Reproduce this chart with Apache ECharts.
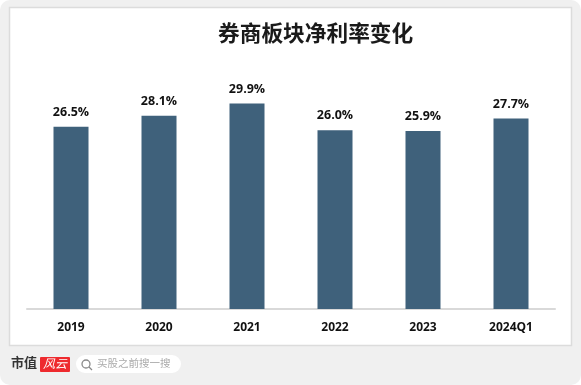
<!DOCTYPE html>
<html><head><meta charset="utf-8">
<style>html,body{margin:0;padding:0;background:#fff}#c{width:581px;height:385px}</style>
<script src="https://cdn.jsdelivr.net/npm/echarts@6/dist/echarts.min.js"></script>
</head><body><div id="c"></div>
<script>
const categories = ['2019','2020','2021','2022','2023','2024Q1'];
const netMargin = [26.5,28.1,29.9,26.0,25.9,27.7];
const titleText = '券商板块净利率变化';
const cjk = '"Noto Sans CJK SC","Noto Sans",sans-serif';
const latin = '"Open Sans","Noto Sans",sans-serif';
const chart = echarts.init(document.getElementById('c'), null, {renderer:'canvas'});
chart.setOption({
  animation:false,
  backgroundColor:'#ffffff',
  title:{text:titleText,left:213,top:17,
    textStyle:{fontFamily:cjk,fontSize:21.7,fontWeight:'bold',color:'#1a1a1a'}},
  grid:{left:27,right:26,top:34,bottom:76},
  xAxis:{type:'category',data:categories,
    axisLine:{lineStyle:{color:'#d9d9d9',width:2}},axisTick:{show:false},
    axisLabel:{margin:13,fontFamily:latin,fontSize:12,fontWeight:'bold',color:'#111'}},
  yAxis:{type:'value',min:0,max:40,show:false,splitLine:{show:false}},
  series:[{type:'bar',data:netMargin,barWidth:35,z:5,
    itemStyle:{color:'#3f617b'},
    label:{show:true,position:'top',distance:8,fontFamily:latin,fontSize:12.5,fontWeight:'bold',color:'#111',
      formatter:p=>p.value.toFixed(1)+'%'}}],
  graphic:[
    {type:'rect',z:-10,silent:true,shape:{x:0,y:0,width:581,height:385,r:10},style:{fill:'#f0f0f0'}},
    {type:'rect',z:-9,silent:true,shape:{x:9.5,y:7.5,width:562,height:338},style:{fill:'#ffffff',stroke:'#dcdcdc',lineWidth:1.5}},
    {type:'text',z:10,left:11,top:356,style:{text:'市值',fontFamily:cjk,fontSize:13,fontWeight:'bold',fill:'#333'}},
    {type:'rect',z:10,shape:{x:40,y:357,width:30,height:15,r:1},style:{fill:'#ee2a2e'}},
    {type:'text',z:11,left:43,top:357,style:{text:'风云',fontFamily:cjk,fontSize:12,fontStyle:'italic',fill:'#fff'}},
    {type:'rect',z:10,shape:{x:76,y:355,width:105,height:18,r:9},style:{fill:'#ffffff'}},
    {type:'circle',z:11,shape:{cx:86,cy:364,r:4},style:{fill:'none',stroke:'#8a8a8a',lineWidth:1.3}},
    {type:'line',z:11,shape:{x1:89,y1:367,x2:92,y2:370},style:{stroke:'#8a8a8a',lineWidth:1.3}},
    {type:'text',z:11,left:97,top:358,style:{text:'买股之前搜一搜',fontFamily:cjk,fontSize:10.5,fill:'#aaaaaa'}}
  ]
});
</script></body></html>
